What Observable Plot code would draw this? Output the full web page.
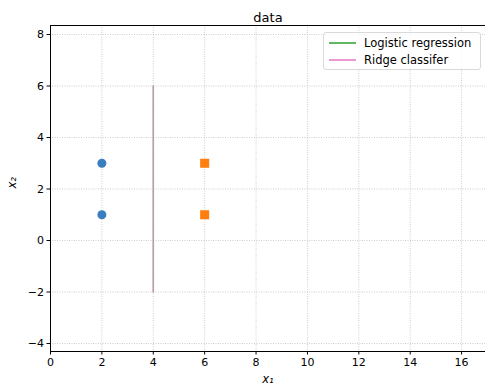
<!DOCTYPE html>
<html>
<head>
<meta charset="utf-8">
<script src="https://cdn.jsdelivr.net/npm/d3@7"></script>
<script src="https://cdn.jsdelivr.net/npm/@observablehq/plot@0.6"></script>
<style>
  html, body { margin: 0; padding: 0; background: #fff; }
  #wrap { position: relative; width: 485px; height: 389px; font-family: "DejaVu Sans", sans-serif; }
  .legend { position: absolute; left: 323px; top: 32px; width: 158px; height: 38px;
    border: 1px solid #d9d9d9; border-radius: 3px; background: rgba(255,255,255,0.8);
    font-size: 11.5px; color: #000; box-sizing: border-box; }
  .legend .row { position: absolute; left: 5px; height: 16px; display: flex; align-items: center; }
  .legend .sw { width: 27px; height: 0; border-top: 2px solid; margin-right: 8px; opacity: 0.75; }
</style>
</head>
<body>
<div id="wrap"></div>
<script>
// Class 0 points (blue circles)
const class0X = [2, 2];
const class0Y = [1, 3];
// Class 1 points (orange squares)
const class1X = [6, 6];
const class1Y = [1, 3];
// Decision boundaries (both models give x1 = 4)
const logisticX = [4, 4];
const logisticY = [-2, 6];
const ridgeX = [4, 4];
const ridgeY = [-2, 6];
// Axis ticks
const xTicks = [0, 2, 4, 6, 8, 10, 12, 14, 16];
const yTicks = [-4, -2, 0, 2, 4, 6, 8];
const seriesNames = ["Logistic regression", "Ridge classifer"];
const seriesColors = ["#2ca02c", "#e377c2"];

const class0 = class0X.map((x, i) => ({x, y: class0Y[i]}));
const class1 = class1X.map((x, i) => ({x, y: class1Y[i]}));
const logistic = logisticX.map((x, i) => ({x, y: logisticY[i]}));
const ridge = ridgeX.map((x, i) => ({x, y: ridgeY[i]}));

const fmt = d => d < 0 ? "\u2212" + Math.abs(d) : String(d);

const chart = Plot.plot({
  width: 485,
  height: 389,
  marginLeft: 50,
  marginRight: 0,
  marginTop: 25,
  marginBottom: 38,
  style: {fontFamily: "DejaVu Sans, sans-serif", fontSize: "11px", color: "#000", background: "#fff"},
  x: {domain: [0, 16.93], ticks: xTicks, tickFormat: fmt, label: null},
  y: {domain: [-4.31, 8.35], ticks: yTicks, tickFormat: fmt, label: null},
  marks: [
    Plot.gridX(xTicks, {stroke: "#b0b0b0", strokeOpacity: 1, strokeWidth: 0.8, strokeDasharray: "0.8,1.6"}),
    Plot.gridY(yTicks, {stroke: "#b0b0b0", strokeOpacity: 1, strokeWidth: 0.8, strokeDasharray: "0.8,1.6"}),
    Plot.axisX(xTicks, {tickSize: 3.5, tickPadding: 3, tickFormat: fmt, fontSize: 11, label: null, stroke: "#000"}),
    Plot.axisY(yTicks, {tickSize: 3.5, tickPadding: 3, tickFormat: fmt, fontSize: 11, label: null, stroke: "#000"}),
    Plot.frame({anchor: "left", stroke: "#000", strokeWidth: 1}),
    Plot.frame({anchor: "bottom", stroke: "#000", strokeWidth: 1}),
    Plot.frame({anchor: "top", stroke: "#000", strokeWidth: 1}),
    Plot.line(logistic, {x: "x", y: "y", stroke: seriesColors[0], strokeWidth: 1.6, strokeOpacity: 0.45}),
    Plot.line(ridge, {x: "x", y: "y", stroke: seriesColors[1], strokeWidth: 1.6, strokeOpacity: 0.55}),
    Plot.dot(class0, {x: "x", y: "y", r: 4.5, fill: "#3a7ebf", stroke: "none", symbol: "circle"}),
    Plot.dot(class1, {x: "x", y: "y", r: 5.1, fill: "#ff7f0e", stroke: "none", symbol: "square"}),
    Plot.text(["data"], {frameAnchor: "top", dy: -13, fontSize: 13, fill: "#000"}),
    Plot.text(["x₁"], {frameAnchor: "bottom", dy: 31, fontSize: 11.5, fontStyle: "italic", fill: "#000"}),
    Plot.text(["x₂"], {frameAnchor: "left", dx: -38, rotate: -90, fontSize: 11.5, fontStyle: "italic", fill: "#000"})
  ]
});

const wrap = document.getElementById("wrap");
wrap.appendChild(chart);

const legend = document.createElement("div");
legend.className = "legend";
seriesNames.forEach((name, i) => {
  const row = document.createElement("div");
  row.className = "row";
  row.style.top = (2 + i * 17) + "px";
  const sw = document.createElement("span");
  sw.className = "sw";
  sw.style.borderColor = seriesColors[i];
  row.appendChild(sw);
  row.appendChild(document.createTextNode(name));
  legend.appendChild(row);
});
wrap.appendChild(legend);
</script>
</body>
</html>
